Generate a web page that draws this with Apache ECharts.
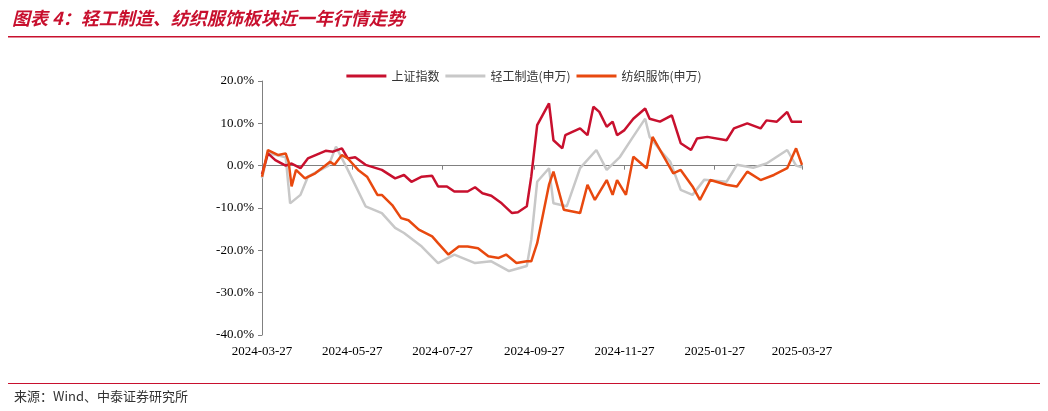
<!DOCTYPE html>
<html><head><meta charset="utf-8">
<script src="https://cdn.jsdelivr.net/npm/echarts@6/dist/echarts.min.js"></script>
<style>html,body{margin:0;padding:0;background:#fff}#c{width:1048px;height:411px}</style>
</head><body><div id="c"></div>
<script>
const seriesNames = ['上证指数','轻工制造(申万)','纺织服饰(申万)'];
const tickLabels = ['2024-03-27','2024-05-27','2024-07-27','2024-09-27','2024-11-27','2025-01-27','2025-03-27'];
const shDays = [0,4,9,16,20,26,31,43,48,54,58,63,70,81,90,96,101,108,115,119,125,130,139,144,149,155,162,169,173,179,182,186,194,197,203,205,215,220,224,228,233,237,240,245,251,259,262,269,277,283,290,294,301,314,319,328,337,341,348,355,358,365];
const shVals = [-2,2.9,1.3,0,0.5,-0.6,1.7,3.5,3.3,4.1,1.7,2,0.2,-1,-3,-2.2,-3.8,-2.6,-2.4,-4.9,-4.9,-6.1,-6.1,-5.1,-6.5,-7.1,-8.9,-11.2,-11,-9.6,-2.6,9.6,14.7,6,4.1,7.2,8.8,7.2,13.9,12.7,9.2,10.4,7.2,8.4,11.1,13.5,11.1,10.4,11.9,5.3,3.7,6.4,6.8,6,8.8,10,8.8,10.7,10.4,12.7,10.4,10.4];
const qgDays = [0,4,16,19,26,31,45,50,58,70,81,90,96,108,119,130,144,155,167,179,182,186,194,197,206,215,226,233,242,250,259,262,269,276,283,291,299,314,321,332,341,355,361,365];
const qgVals = [-3,3,2,-8.9,-6.9,-2.6,0,4.5,-1,-9.6,-11.2,-14.7,-15.9,-19.1,-23,-21,-23,-22.6,-24.9,-23.7,-17.5,-3.8,-0.6,-8.9,-9.6,-0.6,3.7,-1,2.1,6.4,11.1,6.8,3.7,0.9,-5.7,-6.9,-3.3,-3.8,0.2,-0.5,0.5,3.7,0,-0.4];
const fzDays = [0,4,11,16,18,20,23,29,36,42,46,49,54,58,65,71,78,81,88,94,99,106,115,119,126,133,139,146,153,160,165,172,179,182,186,194,197,204,215,220,225,233,237,240,246,251,260,264,271,278,283,291,296,303,314,321,328,337,346,355,361,365];
const fzVals = [-2.6,3.7,2.5,2.9,0.9,-4.9,-1,-3,-1.8,-0.2,0.9,0.2,2.5,1.7,-1,-2.6,-6.9,-6.9,-9.3,-12.4,-12.9,-15.1,-16.7,-18.3,-21,-19.1,-19.1,-19.5,-21.4,-21.8,-21,-23,-22.6,-22.6,-18.3,-4.5,-1.4,-10.4,-11.2,-4.5,-8.1,-3.4,-6.9,-3.4,-6.9,2.1,-0.6,6.8,2.5,-1.8,-1,-4.9,-8.1,-3.4,-4.5,-4.9,-1.4,-3.4,-2.2,-0.6,4.1,0.2,-0.6];

const start = Date.UTC(2024,2,27);
const cats = [];
for (let i=0;i<=365;i++){ cats.push(new Date(start+i*86400000).toISOString().slice(0,10)); }
function build(days, vals){ const a = new Array(cats.length).fill(null); days.forEach((d,i)=>{a[d]=vals[i];}); return a; }
const colors = ['#C8102E','#C8C8C8','#E8490F'];
const chart = echarts.init(document.getElementById('c'));
const font = 'Times New Roman, Liberation Serif, serif';
chart.setOption({
  animation:false,
  graphic:[
    {type:'text',left:12,top:9,style:{text:'图表 4：轻工制造、纺织服饰板块近一年行情走势',fill:'#C8102E',font:'italic bold 18px "Noto Sans CJK SC"'}},
    {type:'rect',shape:{x:8,y:36,width:1032,height:1.5},style:{fill:'#C8102E'}},
    {type:'rect',shape:{x:8,y:383,width:1032,height:1},style:{fill:'#C8102E'}},
    {type:'text',left:14,top:390,style:{text:'来源：Wind、中泰证券研究所',fill:'#333',font:'13px "Noto Sans CJK SC"'}}
  ],
  legend:{top:65,left:'center',itemWidth:40,itemHeight:3,itemGap:6,icon:'rect',
    textStyle:{fontFamily:'Noto Sans CJK SC',fontSize:12,color:'#333'},data:seriesNames},
  grid:{left:262,right:246,top:81,bottom:76},
  xAxis:[
    {type:'category',data:cats,boundaryGap:false,position:'bottom',
     axisLine:{show:false,onZero:false},axisTick:{show:false},
     axisLabel:{interval:(i,v)=>tickLabels.includes(v),formatter:v=>v,color:'#000',fontFamily:font,fontSize:13,margin:10,showMinLabel:true,showMaxLabel:true}},
    {type:'category',data:cats,boundaryGap:false,position:'bottom',
     axisLine:{onZero:true,lineStyle:{color:'#808080'}},
     axisTick:{interval:(i,v)=>tickLabels.includes(v),length:4,lineStyle:{color:'#808080'}},
     axisLabel:{show:false}}
  ],
  yAxis:{type:'value',min:-40,max:20,interval:10,
    axisLine:{show:true,lineStyle:{color:'#808080'}},axisTick:{show:true,length:4},
    splitLine:{show:false},
    axisLabel:{formatter:v=>v.toFixed(1)+'%',color:'#000',fontFamily:font,fontSize:13}},
  series:[
    {name:seriesNames[0],type:'line',xAxisIndex:1,data:build(shDays,shVals),connectNulls:true,showSymbol:false,lineStyle:{width:2.5,color:colors[0]},itemStyle:{color:colors[0]},z:3},
    {name:seriesNames[1],type:'line',xAxisIndex:1,data:build(qgDays,qgVals),connectNulls:true,showSymbol:false,lineStyle:{width:2.5,color:colors[1]},itemStyle:{color:colors[1]},z:2},
    {name:seriesNames[2],type:'line',xAxisIndex:1,data:build(fzDays,fzVals),connectNulls:true,showSymbol:false,lineStyle:{width:2.5,color:colors[2]},itemStyle:{color:colors[2]},z:4}
  ]
});
</script></body></html>
